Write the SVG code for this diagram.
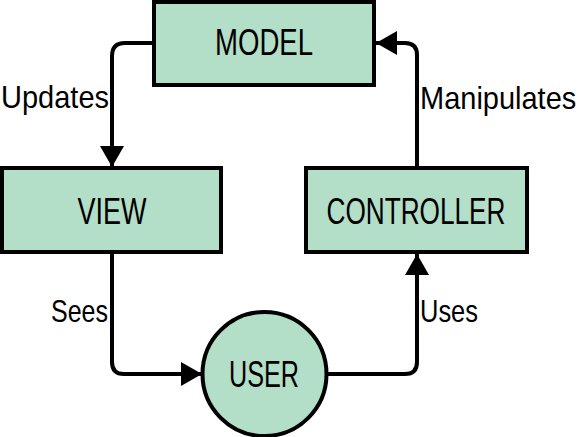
<svg xmlns="http://www.w3.org/2000/svg" width="581" height="437" viewBox="0 0 581 437">
<style>
.box{fill:#b3dec8;stroke:#000;stroke-width:4}
.lbl{font-family:"Liberation Sans",Arial,sans-serif;font-size:36px;fill:#000;text-anchor:middle}
.elbl{font-family:"Liberation Sans",Arial,sans-serif;font-size:32px;fill:#000}
.edge{fill:none;stroke:#000;stroke-width:4}
</style>
<defs>
<marker id="ah" markerUnits="userSpaceOnUse" markerWidth="22" markerHeight="24" refX="21" refY="12" orient="auto">
<path d="M0,0 L21,12 L0,24 Z" fill="#000"/>
</marker>
</defs>
<rect width="581" height="437" fill="#fff"/>
<g id="connectors">
<path class="edge" d="M154,43 H125 Q112,43 112,56 V167" marker-end="url(#ah)"/>
<path class="edge" d="M112,253 V362 Q112,374 124,374 H202" marker-end="url(#ah)"/>
<path class="edge" d="M327,374 H405 Q417,374 417,362 V254" marker-end="url(#ah)"/>
<path class="edge" d="M417,168 V55 Q417,43 405,43 H376" marker-end="url(#ah)"/>
<text class="elbl" x="1" y="108" textLength="108" lengthAdjust="spacingAndGlyphs">Updates</text>
<text class="elbl" transform="translate(420,109) scale(1,1.1)" style="font-size:29px">Manipulates</text>
<text class="elbl" x="51" y="322" textLength="57" lengthAdjust="spacingAndGlyphs">Sees</text>
<text class="elbl" x="420" y="322" textLength="58" lengthAdjust="spacingAndGlyphs">Uses</text>
</g>
<g id="model">
<rect class="box" x="154" y="2" width="220" height="83"/>
<text class="lbl" x="264" y="55" textLength="98" lengthAdjust="spacingAndGlyphs">MODEL</text>
</g>
<g id="view">
<rect class="box" x="2" y="168" width="219" height="84"/>
<text class="lbl" x="112" y="224" textLength="69" lengthAdjust="spacingAndGlyphs">VIEW</text>
</g>
<g id="controller">
<rect class="box" x="306" y="168" width="221" height="84"/>
<text class="lbl" x="416" y="224" textLength="179" lengthAdjust="spacingAndGlyphs">CONTROLLER</text>
</g>
<g id="user">
<circle class="box" cx="264.5" cy="374" r="62"/>
<text class="lbl" x="264" y="387" textLength="70" lengthAdjust="spacingAndGlyphs">USER</text>
</g>
</svg>
